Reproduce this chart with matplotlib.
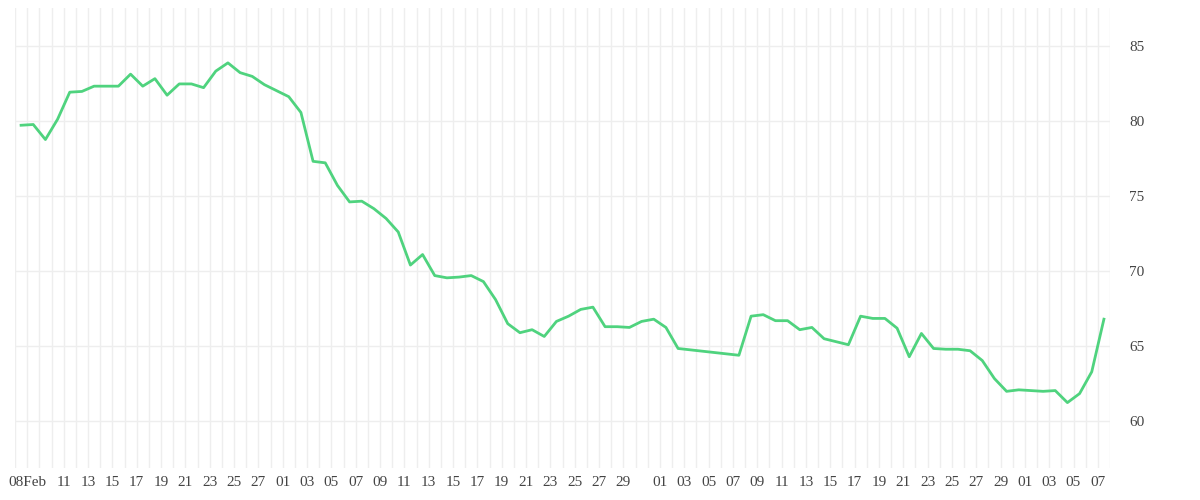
import matplotlib
matplotlib.use("Agg")
import matplotlib.pyplot as plt
import numpy as np

# day offsets from 08 Feb and values
days = list(range(0, 55)) + list(range(59, 90))
values = [79.7, 79.75, 78.75, 80.1, 81.9, 81.95, 82.3, 82.3, 82.3, 83.1,
          82.3, 82.8, 81.7, 82.45, 82.45, 82.2, 83.3, 83.85, 83.2, 82.95,
          82.4, 82.0, 81.6, 80.55, 77.3, 77.2, 75.7, 74.6, 74.65, 74.15,
          73.5, 72.6, 70.4, 71.1, 69.7, 69.55, 69.6, 69.7, 69.3, 68.1,
          66.5, 65.9, 66.1, 65.65, 66.65, 67.0, 67.45, 67.6, 66.3, 66.3,
          66.25, 66.65, 66.8, 66.25, 64.85,
          64.4, 67.0, 67.1, 66.7, 66.7, 66.1, 66.25, 65.5, 65.3, 65.1,
          67.0, 66.85, 66.85, 66.2, 64.3, 65.85, 64.85, 64.8, 64.8, 64.7,
          64.05, 62.85, 62.0, 62.1, 62.05, 62.0, 62.05, 61.25, 61.85, 63.3, 66.8]
tick_days = [0, 3, 5, 7, 9, 11, 13, 15, 17, 19, 21, 23, 25, 27, 29, 31, 33, 35, 37, 39,
             41, 43, 45, 47, 49, 52, 54, 56, 58, 60, 62, 64, 66, 68, 70, 72, 74, 76,
             78, 80, 82, 84, 86, 88]
tick_labels = ["08Feb", "11", "13", "15", "17", "19", "21", "23", "25", "27",
               "01", "03", "05", "07", "09", "11", "13", "15", "17", "19", "21", "23",
               "25", "27", "29", "01", "03", "05", "07", "09", "11", "13", "15", "17",
               "19", "21", "23", "25", "27", "29", "01", "03", "05", "07"]
yticks = [60, 65, 70, 75, 80, 85]

fig = plt.figure(figsize=(12, 5), dpi=100)
ax = fig.add_axes([0.0125, 0.064, 0.9125, 0.92])
ax.plot(days, values, color="#4fd37e", lw=2.0, zorder=3)
ax.set_xlim(-0.5, 89.5)
ax.set_ylim(56.9, 87.5)
ax.set_xticks(np.arange(-0.5, 90, 1.0), minor=True)
ax.set_xticks([d + 0.5 for d in tick_days])
ax.set_xticklabels(tick_labels)
ax.set_yticks(yticks)
ax.yaxis.tick_right()
ax.grid(True, which="minor", axis="x", color="#eeeeee", lw=1)
ax.grid(True, which="major", axis="both", color="#eeeeee", lw=1)
ax.set_axisbelow(True)
for s in ax.spines.values():
    s.set_visible(False)
ax.tick_params(which="both", length=0)
ax.tick_params(axis="x", pad=6)
ax.tick_params(axis="y", pad=14)
for lab in ax.get_xticklabels() + ax.get_yticklabels():
    lab.set_fontfamily("Liberation Serif")
    lab.set_fontsize(11)
    lab.set_color("#444444")
fig.savefig("out.png", dpi=100)
